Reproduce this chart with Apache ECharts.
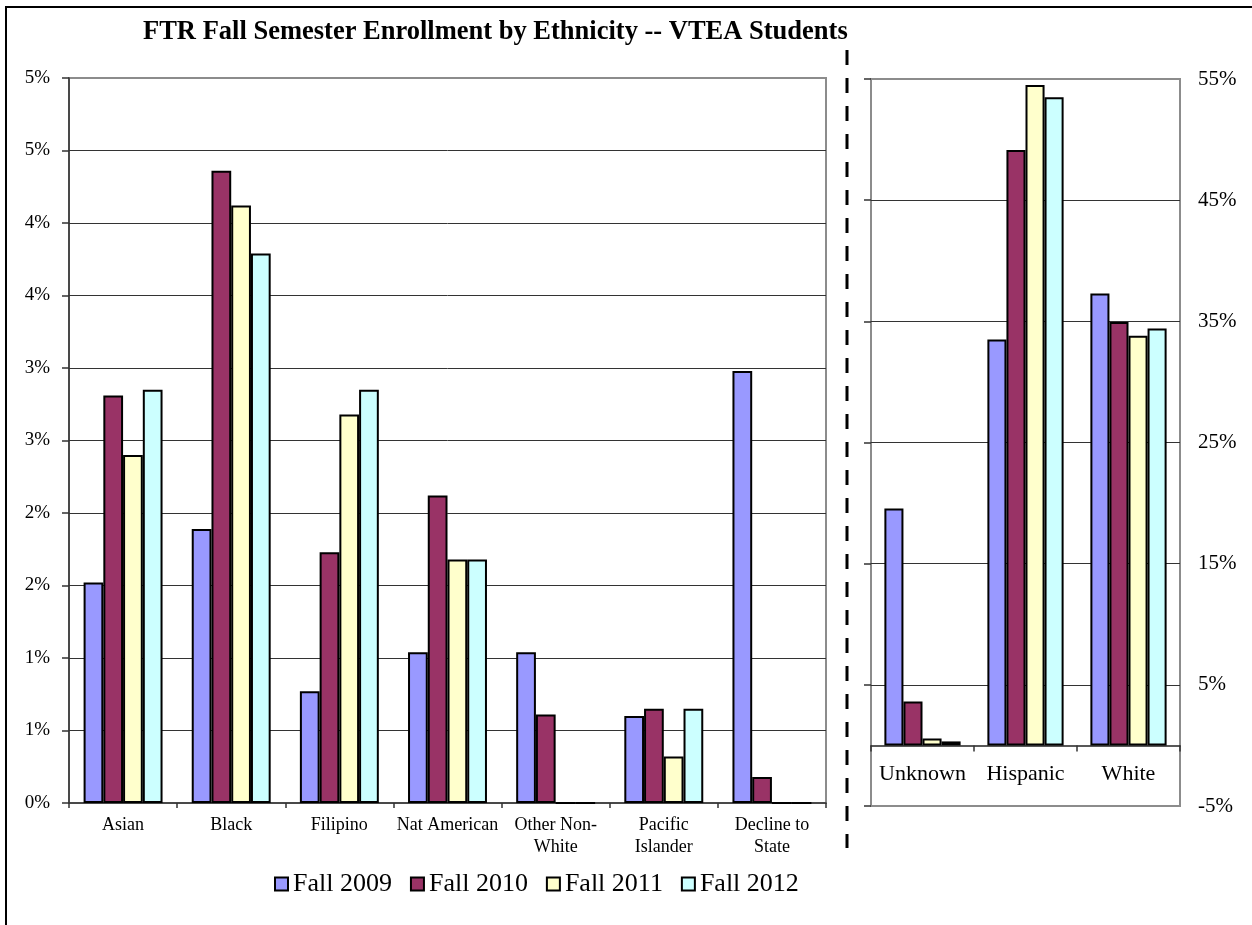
<!DOCTYPE html>
<html>
<head>
<meta charset="utf-8">
<script src="https://cdn.jsdelivr.net/npm/echarts@6/dist/echarts.min.js"></script>
<style>
html,body{margin:0;padding:0;background:#fff;}
#chart{width:1252px;height:925px;}
</style>
</head>
<body>
<div id="chart"></div>
<script>
// ---- data ----
const chartTitle = 'FTR Fall Semester Enrollment by Ethnicity -- VTEA Students';
const years = ['Fall 2009', 'Fall 2010', 'Fall 2011', 'Fall 2012'];
const yearColors = ['#9999FF', '#993366', '#FFFFCC', '#CCFFFF'];

const leftCategories = ['Asian', 'Black', 'Filipino', 'Nat American', 'Other Non-White', 'Pacific Islander', 'Decline to State'];
const fall2009Left = [1.52, 1.89, 0.77, 1.04, 1.04, 0.60, 2.98];
const fall2010Left = [2.81, 4.36, 1.73, 2.12, 0.61, 0.65, 0.18];
const fall2011Left = [2.40, 4.12, 2.68, 1.68, 0, 0.32, 0];
const fall2012Left = [2.85, 3.79, 2.85, 1.68, 0, 0.65, 0];
const leftTickLabels = ['0%', '1%', '1%', '2%', '2%', '3%', '3%', '4%', '4%', '5%', '5%'];

const rightCategories = ['Unknown', 'Hispanic', 'White'];
const fall2009Right = [19.55, 33.5, 37.3];
const fall2010Right = [3.63, 49.15, 34.95];
const fall2011Right = [0.58, 54.5, 33.8];
const fall2012Right = [0.33, 53.5, 34.4];
const rightTickLabels = ['-5%', '5%', '15%', '25%', '35%', '45%', '55%'];

const leftSeriesData = [fall2009Left, fall2010Left, fall2011Left, fall2012Left];
const rightSeriesData = [fall2009Right, fall2010Right, fall2011Right, fall2012Right];

// ---- helpers ----
const FONT = "'Liberation Serif', 'Times New Roman', serif";
function wrapLabel(s) {
  if (s.length <= 12) return s;
  let best = -1;
  for (let i = 0; i < s.length; i++) {
    if (s[i] === ' ' && i <= 10) best = i;
    if (s[i] === '-' && i + 1 <= 10) best = i + 1;
  }
  if (best < 0) return s;
  const a = s.slice(0, best).replace(/ $/, '');
  const b = s.slice(best).replace(/^ /, '');
  return a + '\n' + b;
}

const chart = echarts.init(document.getElementById('chart'), null, {renderer: 'canvas'});

const series = [];
years.forEach((y, i) => {
  series.push({
    name: y, type: 'bar', xAxisIndex: 0, yAxisIndex: 0,
    data: leftSeriesData[i],
    barGap: '0%', barCategoryGap: '27%',
    itemStyle: {color: yearColors[i], borderColor: '#000', borderWidth: 2},
    emphasis: {disabled: true}
  });
});
years.forEach((y, i) => {
  series.push({
    name: y, type: 'bar', xAxisIndex: 1, yAxisIndex: 1,
    data: rightSeriesData[i],
    barGap: '0%', barCategoryGap: '26%',
    itemStyle: {color: yearColors[i], borderColor: '#000', borderWidth: 2},
    emphasis: {disabled: true}
  });
});

const option = {
  animation: false,
  backgroundColor: '#fff',
  textStyle: {fontFamily: FONT, color: '#000'},
  title: {
    text: chartTitle, left: 138, top: 14,
    textStyle: {fontFamily: FONT, fontWeight: 'bold', fontSize: 26.5, color: '#000'}
  },
  legend: {
    data: years, left: 269, top: 866,
    itemWidth: 13, itemHeight: 13, itemGap: 18,
    icon: 'rect',
    itemStyle: {borderColor: '#000', borderWidth: 2},
    textStyle: {fontFamily: FONT, fontSize: 26, color: '#000'}
  },
  grid: [
    {left: 69, top: 78, width: 757, height: 725, show: true, borderColor: '#8c8c8c', borderWidth: 2, backgroundColor: 'transparent'},
    {left: 871, top: 79, width: 309, height: 727, show: true, borderColor: '#8c8c8c', borderWidth: 2, backgroundColor: 'transparent'}
  ],
  xAxis: [
    {
      type: 'category', gridIndex: 0, data: leftCategories,
      axisLine: {lineStyle: {color: '#333', width: 1.5}},
      axisTick: {show: true, length: 5, lineStyle: {color: '#333', width: 1.5}},
      axisLabel: {fontFamily: FONT, fontSize: 18, color: '#000', margin: 11, lineHeight: 22, interval: 0, formatter: wrapLabel},
      splitLine: {show: false}
    },
    {
      type: 'category', gridIndex: 1, data: rightCategories,
      axisLine: {onZero: true, lineStyle: {color: '#222', width: 1.5}},
      axisTick: {show: true, length: 6, lineStyle: {color: '#333', width: 1.5}},
      axisLabel: {fontFamily: FONT, fontSize: 22, color: '#000', margin: -43, interval: 0},
      splitLine: {show: false}
    }
  ],
  yAxis: [
    {
      type: 'value', gridIndex: 0, min: 0, max: 5, interval: 0.5,
      axisLine: {show: true, lineStyle: {color: '#333', width: 1.5}},
      axisTick: {show: true, length: 7, lineStyle: {color: '#333', width: 1.5}},
      axisLabel: {fontFamily: FONT, fontSize: 19, color: '#000', margin: 19,
        formatter: v => leftTickLabels[Math.round(v / 0.5)]},
      splitLine: {show: true, showMinLine: false, showMaxLine: false, lineStyle: {color: '#333', width: 1}}
    },
    {
      type: 'value', gridIndex: 1, position: 'left', min: -5, max: 55, interval: 10,
      axisLine: {show: false},
      axisTick: {show: true, length: 7, lineStyle: {color: '#333', width: 1.5}},
      axisLabel: {show: false},
      splitLine: {show: true, showMinLine: false, showMaxLine: false, lineStyle: {color: '#333', width: 1}}
    },
    {
      type: 'value', gridIndex: 1, position: 'right', min: -5, max: 55, interval: 10,
      axisLine: {show: false},
      axisTick: {show: false},
      axisLabel: {fontFamily: FONT, fontSize: 21, color: '#000', margin: 18,
        formatter: v => rightTickLabels[Math.round((v + 5) / 10)]},
      splitLine: {show: false}
    }
  ],
  graphic: [
    {type: 'rect', silent: true, z: 100,
      shape: {x: 6, y: 7, width: 1400, height: 1100},
      style: {fill: 'none', stroke: '#000', lineWidth: 2}},
    {type: 'line', silent: true, z: 100,
      shape: {x1: 847, y1: 50, x2: 847, y2: 848},
      style: {stroke: '#000', lineWidth: 3, lineDash: [15, 13]}}
  ],
  series: series
};
chart.setOption(option);
</script>
</body>
</html>
